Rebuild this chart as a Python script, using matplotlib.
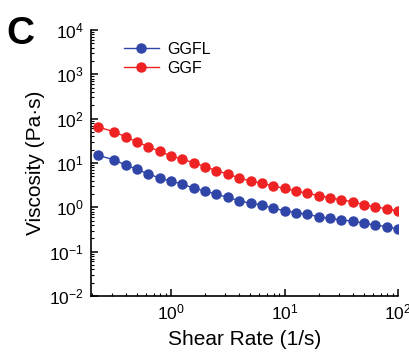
import numpy as np
import matplotlib
matplotlib.use("Agg")
import matplotlib.pyplot as plt
from matplotlib.ticker import LogLocator, NullFormatter

plt.rcParams['font.family'] = ['Liberation Sans', 'DejaVu Sans']
plt.rcParams['mathtext.fontset'] = 'custom'
plt.rcParams['mathtext.rm'] = 'Liberation Sans'
plt.rcParams['mathtext.it'] = 'Liberation Sans'
plt.rcParams['mathtext.bf'] = 'Liberation Sans:bold'
plt.rcParams['axes.unicode_minus'] = False

shear_rate = [0.225, 0.316, 0.398, 0.501, 0.631, 0.794, 1.0, 1.26, 1.58, 2.0, 2.51,
              3.16, 3.98, 5.01, 6.31, 7.94, 10.0, 12.6, 15.8, 20.0, 25.1, 31.6,
              39.8, 50.1, 63.1, 79.4, 100.0]
ggfl = [15.1, 11.7, 9.0, 7.2, 5.64, 4.58, 3.86, 3.36, 2.68, 2.33, 1.96, 1.68, 1.41,
        1.23, 1.13, 0.95, 0.84, 0.755, 0.695, 0.614, 0.565, 0.517, 0.491, 0.436,
        0.399, 0.365, 0.324]
ggf = [65.8, 50.0, 39.1, 29.7, 23.3, 18.3, 14.4, 12.1, 10.1, 8.24, 6.70, 5.64, 4.58,
       3.92, 3.48, 3.02, 2.68, 2.33, 2.07, 1.83, 1.65, 1.46, 1.34, 1.13, 1.03, 0.92,
       0.83]

fig = plt.figure(figsize=(4.10, 3.59), dpi=100)
ax = fig.add_axes([0.222, 0.1755, 0.749, 0.741])

blue = '#2f45a8'
red = '#ee2222'
ax.plot(shear_rate, ggfl, '-o', color=blue, lw=1.0, ms=6.5, label='GGFL')
ax.plot(shear_rate, ggf, '-o', color=red, lw=1.0, ms=6.5, label='GGF')

ax.set_xscale('log')
ax.set_yscale('log')
ax.set_xlim(0.197, 100)
ax.set_ylim(1e-2, 1e4)
ax.yaxis.set_major_locator(LogLocator(base=10, numticks=20))
ax.yaxis.set_minor_locator(LogLocator(base=10, subs=np.arange(2, 10), numticks=100))
ax.yaxis.set_minor_formatter(NullFormatter())
ax.xaxis.set_minor_locator(LogLocator(base=10, subs=np.arange(2, 10), numticks=100))
ax.xaxis.set_minor_formatter(NullFormatter())

for s in ['top', 'right']:
    ax.spines[s].set_visible(False)
for s in ['left', 'bottom']:
    ax.spines[s].set_linewidth(1.2)
ax.tick_params(which='major', direction='in', length=5, width=1.1, labelsize=12.5, pad=5)
ax.tick_params(which='minor', direction='in', length=2.5, width=0.8)

ax.set_xlabel('Shear Rate (1/s)', fontsize=15, labelpad=5)
ax.set_ylabel('Viscosity (Pa·s)', fontsize=15, labelpad=3)

ax.legend(loc='upper left', frameon=False, fontsize=11.5, bbox_to_anchor=(0.06, 1.01),
          handlelength=2.2, handletextpad=0.5, labelspacing=0.25)

fig.text(0.015, 0.955, 'C', fontsize=28, fontweight='bold', va='top', ha='left')

fig.savefig('out.png', dpi=100)
